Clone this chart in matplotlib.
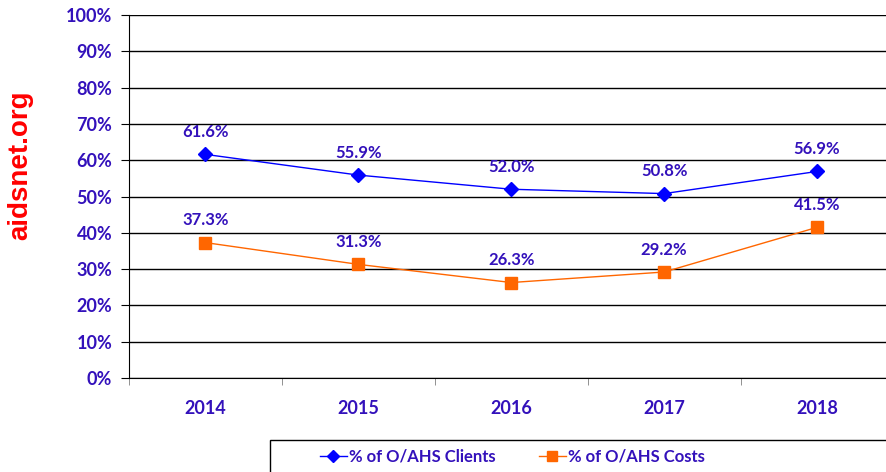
import matplotlib.pyplot as plt
from matplotlib.patches import Rectangle
from matplotlib.ticker import FixedLocator, NullFormatter

years = ["2014", "2015", "2016", "2017", "2018"]
clients = [61.6, 55.9, 52.0, 50.8, 56.9]
costs = [37.3, 31.3, 26.3, 29.2, 41.5]
yticks = [0, 10, 20, 30, 40, 50, 60, 70, 80, 90, 100]

txt = "#3311BB"
font = "Lato"

fig = plt.figure(figsize=(8.86, 4.72), dpi=100)
# plot area runs slightly past the right edge, as in the source
ax = fig.add_axes([129 / 886, 1 - 378 / 472, (893.5 - 129) / 886, (378 - 15) / 472])

x = list(range(len(years)))
ax.plot(x, clients, color="#0000FF", lw=1, marker="D", ms=7, label="% of O/AHS Clients")
ax.plot(x, costs, color="#FF6600", lw=1, marker="s", ms=8.5, label="% of O/AHS Costs")

for i in x:
    ax.annotate(f"{clients[i]:.1f}%", (i, clients[i]), xytext=(0, 16), textcoords="offset points",
                ha="center", va="center", color=txt, fontsize=12, fontweight="bold", family=font)
    ax.annotate(f"{costs[i]:.1f}%", (i, costs[i]), xytext=(0, 16), textcoords="offset points",
                ha="center", va="center", color=txt, fontsize=12, fontweight="bold", family=font)

ax.set_xlim(-0.5, 4.5)
ax.set_ylim(0, 100)
ax.set_yticks(yticks)
ax.set_yticklabels([f"{v}%" for v in yticks], color=txt, fontsize=13, fontweight="bold", family=font)
ax.yaxis.grid(True, color="black", lw=1)
ax.set_axisbelow(True)

ax.set_xticks(x)
ax.set_xticklabels(years, color=txt, fontsize=13, fontweight="bold", family=font)
ax.tick_params(axis="x", which="major", length=0, pad=16)
ax.xaxis.set_minor_locator(FixedLocator([i + 0.5 for i in range(-1, 5)]))
ax.xaxis.set_minor_formatter(NullFormatter())
ax.tick_params(axis="x", which="minor", length=5, color="gray", direction="out")
ax.tick_params(axis="y", length=6, color="black", pad=6)

for s in ["top", "right"]:
    ax.spines[s].set_visible(False)
ax.spines["left"].set_color("black")
ax.spines["bottom"].set_color("black")

fig.text(20 / 886, 1 - 165 / 472, "aidsnet.org", rotation=90, color="#FF0000",
         fontsize=20, fontweight="bold", family="Liberation Sans", ha="center", va="center")

# legend box runs off the bottom-right corner
fig.patches.append(Rectangle((270 / 886, -0.05), 0.8, 0.05 + (472 - 440) / 472,
                             transform=fig.transFigure, fill=False, edgecolor="black", lw=1))
leg = fig.legend(loc="center left", bbox_to_anchor=(305 / 886, 1 - 457 / 472), ncol=2, frameon=False,
                 prop={"family": font, "weight": "bold", "size": 12},
                 handlelength=1.6, handletextpad=0.15, columnspacing=2.6, markerscale=0.85)
for t in leg.get_texts():
    t.set_color(txt)

fig.savefig("out.png", dpi=100)
